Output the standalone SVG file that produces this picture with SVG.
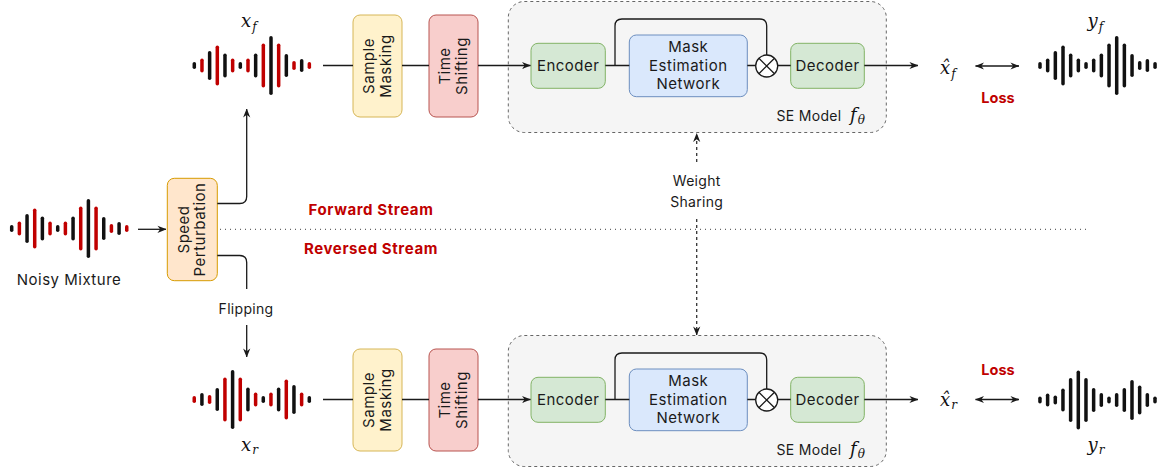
<svg xmlns="http://www.w3.org/2000/svg" xmlns:xlink="http://www.w3.org/1999/xlink" width="1158" height="469" viewBox="0 0 1158 469">
<style>
.lbl{font-family:Inter,"Noto Sans","DejaVu Sans",sans-serif;font-size:15px;fill:#1a1a1a;text-anchor:middle;letter-spacing:0.5px}
.sm{font-size:14px;letter-spacing:0.3px}
.red{font-family:Inter,"Noto Sans","DejaVu Sans",sans-serif;font-weight:700;fill:#c00000;text-anchor:middle}
.math{font-family:"DejaVu Serif","Liberation Serif",serif;font-style:italic;fill:#111}
.edge{stroke:#1a1a1a;stroke-width:1.3;fill:none}
.dash{stroke:#333;stroke-width:1.3;fill:none;stroke-dasharray:3 3}
.dot{stroke:#666;stroke-width:1.2;fill:none;stroke-dasharray:1 4}
.se{fill:#f5f5f5;stroke:#666;stroke-width:1;stroke-dasharray:3 3}
.sample{fill:#fff2cc;stroke:#d6b656;stroke-width:1}
.time{fill:#f8cecc;stroke:#b85450;stroke-width:1}
.green{fill:#d5e8d4;stroke:#82b366;stroke-width:1}
.blue{fill:#dae8fc;stroke:#6c8ebf;stroke-width:1}
.speed{fill:#ffe6cc;stroke:#d79b00;stroke-width:1}
</style>
<defs>
<marker id="ah" viewBox="0 0 10 10" refX="9.5" refY="5" markerWidth="9" markerHeight="9" markerUnits="userSpaceOnUse" orient="auto-start-reverse">
<path d="M0,1 L10,5 L0,9 L3,5 z" fill="#1a1a1a"/>
</marker>
<g id="wA">
<rect x="-1.75" y="-3.5" width="3.5" height="7" rx="1.75"/>
<rect x="13.59" y="-14.5" width="3.5" height="29" rx="1.75"/>
<rect x="28.93" y="-12" width="3.5" height="24" rx="1.75"/>
<rect x="44.27" y="-3.5" width="3.5" height="7" rx="1.75"/>
<rect x="59.61" y="-12" width="3.5" height="24" rx="1.75"/>
<rect x="74.95" y="-29.5" width="3.5" height="59" rx="1.75"/>
<rect x="90.29" y="-11.5" width="3.5" height="23" rx="1.75"/>
<rect x="105.63" y="-6.5" width="3.5" height="13" rx="1.75"/>
</g>
<g id="wB">
<rect x="5.92" y="-7" width="3.5" height="14" rx="1.75"/>
<rect x="21.26" y="-20" width="3.5" height="40" rx="1.75"/>
<rect x="36.6" y="-7" width="3.5" height="14" rx="1.75"/>
<rect x="51.94" y="-7" width="3.5" height="14" rx="1.75"/>
<rect x="67.28" y="-22" width="3.5" height="44" rx="1.75"/>
<rect x="82.62" y="-22" width="3.5" height="44" rx="1.75"/>
<rect x="97.96" y="-4.5" width="3.5" height="9" rx="1.75"/>
<rect x="113.3" y="-3.5" width="3.5" height="7" rx="1.75"/>
</g>
</defs>
<rect width="1158" height="469" fill="#ffffff"/>

<!-- waveforms -->
<g id="noisy-mixture">
<g transform="translate(11.7,228.5)"><use href="#wA" fill="#111"/><use href="#wB" fill="#c00000"/></g>
<text class="lbl" x="69" y="285" letter-spacing="0.3">Noisy Mixture</text>
</g>
<g id="xf">
<g transform="translate(194.3,65.5)"><use href="#wA" fill="#111"/><use href="#wB" fill="#c00000"/></g>
<text class="math" x="241" y="27" font-size="18">x<tspan font-size="12" dx="1" dy="4">f</tspan></text>
</g>
<g id="xr">
<g transform="translate(309.3,399.5) scale(-1,1)"><use href="#wA" fill="#111"/><use href="#wB" fill="#c00000"/></g>
<text class="math" x="241" y="451" font-size="18">x<tspan font-size="12" dx="1" dy="3">r</tspan></text>
</g>
<g id="yf">
<g transform="translate(1040,65.5)"><use href="#wA" fill="#111"/><use href="#wB" fill="#111"/></g>
<text class="math" x="1087.5" y="27" font-size="18">y<tspan font-size="12" dx="1" dy="4">f</tspan></text>
</g>
<g id="yr">
<g transform="translate(1155,400) scale(-1,1)"><use href="#wA" fill="#111"/><use href="#wB" fill="#111"/></g>
<text class="math" x="1087.5" y="451" font-size="18">y<tspan font-size="12" dx="1" dy="3">r</tspan></text>
</g>

<!-- speed perturbation -->
<g id="speed-perturbation">
<rect class="speed" x="167.3" y="178.3" width="50" height="102.4" rx="7"/>
<text class="lbl" transform="translate(192.3,229.5) rotate(-90)" letter-spacing="0.2"><tspan x="0" y="-3.5">Speed</tspan><tspan x="0" y="13">Perturbation</tspan></text>
</g>

<!-- top row -->
<g id="sample-masking-f">
<rect class="sample" x="353" y="15" width="49" height="102" rx="7"/>
<text class="lbl" transform="translate(377.5,66) rotate(-90)"><tspan x="0" y="-3.5">Sample</tspan><tspan x="0" y="13">Masking</tspan></text>
</g>
<g id="time-shifting-f">
<rect class="time" x="429" y="15" width="49" height="102" rx="7"/>
<text class="lbl" transform="translate(453.5,66) rotate(-90)"><tspan x="0" y="-3.5">Time</tspan><tspan x="0" y="13">Shifting</tspan></text>
</g>
<g id="se-model-f">
<rect class="se" x="508.3" y="1.5" width="378" height="131" rx="16"/>
<text class="lbl sm" x="809" y="121">SE Model</text>
<text class="math" x="850" y="121" font-size="18">f<tspan font-size="12" dx="1" dy="3">θ</tspan></text>
</g>
<g id="encoder-f">
<rect class="green" x="531" y="43.3" width="74.3" height="45" rx="7"/>
<text class="lbl" x="568.2" y="71">Encoder</text>
</g>
<g id="men-f">
<rect class="blue" x="629.3" y="35" width="118" height="61.7" rx="7"/>
<text class="lbl"><tspan x="688.3" y="51.5">Mask</tspan><tspan x="688.3" y="70.5">Estimation</tspan><tspan x="688.3" y="89">Network</tspan></text>
</g>
<g id="mult-f">
<circle cx="766.7" cy="66" r="11" fill="#fff" stroke="#1a1a1a" stroke-width="1.3"/>
<path d="M758.9,58.2 L774.5,73.8 M774.5,58.2 L758.9,73.8" stroke="#1a1a1a" stroke-width="1.3"/>
</g>
<g id="decoder-f">
<rect class="green" x="790.7" y="43.3" width="73.6" height="45" rx="7"/>
<text class="lbl" x="827.5" y="71">Decoder</text>
</g>
<g id="xhat-f">
<text class="math" x="940" y="73.5" font-size="18">x̂<tspan font-size="12" dx="1" dy="4">f</tspan></text>
</g>
<text class="red" x="998" y="103" font-size="14.5">Loss</text>

<!-- bottom row -->
<g id="sample-masking-r">
<rect class="sample" x="353" y="349" width="49" height="102" rx="7"/>
<text class="lbl" transform="translate(377.5,400) rotate(-90)"><tspan x="0" y="-3.5">Sample</tspan><tspan x="0" y="13">Masking</tspan></text>
</g>
<g id="time-shifting-r">
<rect class="time" x="429" y="349" width="49" height="102" rx="7"/>
<text class="lbl" transform="translate(453.5,400) rotate(-90)"><tspan x="0" y="-3.5">Time</tspan><tspan x="0" y="13">Shifting</tspan></text>
</g>
<g id="se-model-r">
<rect class="se" x="508.3" y="335.5" width="378" height="131" rx="16"/>
<text class="lbl sm" x="809" y="455">SE Model</text>
<text class="math" x="850" y="455" font-size="18">f<tspan font-size="12" dx="1" dy="3">θ</tspan></text>
</g>
<g id="encoder-r">
<rect class="green" x="531" y="377.3" width="74.3" height="45" rx="7"/>
<text class="lbl" x="568.2" y="405">Encoder</text>
</g>
<g id="men-r">
<rect class="blue" x="629.3" y="369" width="118" height="61.7" rx="7"/>
<text class="lbl"><tspan x="688.3" y="385.5">Mask</tspan><tspan x="688.3" y="404.5">Estimation</tspan><tspan x="688.3" y="423">Network</tspan></text>
</g>
<g id="mult-r">
<circle cx="766.7" cy="400" r="11" fill="#fff" stroke="#1a1a1a" stroke-width="1.3"/>
<path d="M758.9,392.2 L774.5,407.8 M774.5,392.2 L758.9,407.8" stroke="#1a1a1a" stroke-width="1.3"/>
</g>
<g id="decoder-r">
<rect class="green" x="790.7" y="377.3" width="73.6" height="45" rx="7"/>
<text class="lbl" x="827.5" y="405">Decoder</text>
</g>
<g id="xhat-r">
<text class="math" x="940" y="406" font-size="18">x̂<tspan font-size="12" dx="1" dy="3">r</tspan></text>
</g>
<text class="red" x="998" y="375" font-size="14.5">Loss</text>

<!-- stream labels -->
<text class="red" x="371" y="215" font-size="15" letter-spacing="0.6">Forward Stream</text>
<text class="red" x="371" y="254" font-size="15" letter-spacing="0.6">Reversed Stream</text>
<text class="lbl sm" x="246" y="314">Flipping</text>
<text class="lbl sm"><tspan x="696.7" y="186">Weight</tspan><tspan x="696.7" y="207">Sharing</tspan></text>

<!-- connectors -->
<g id="connectors">
<path class="dot" d="M220,229.3 H1090"/>
<path class="edge" d="M138,229.3 H166" marker-end="url(#ah)"/>
<path class="edge" d="M217.3,203.5 H239.7 Q246.7,203.5 246.7,196.5 V109" marker-end="url(#ah)"/>
<path class="edge" d="M217.3,255.5 H239.7 Q246.7,255.5 246.7,262.5 V289"/>
<path class="edge" d="M246.7,325 V357" marker-end="url(#ah)"/>

<path class="edge" d="M323,65.5 H353 M402,65.5 H429"/>
<path class="edge" d="M478,65.5 H530.5" marker-end="url(#ah)"/>
<path class="edge" d="M605.3,65.5 H629.3 M747.3,65.5 H755.7 M777.7,65.5 H790.7"/>
<path class="edge" d="M615,65.5 V26 Q615,19 622,19 H759.7 Q766.7,19 766.7,26 V55"/>
<path class="edge" d="M864.3,65.5 H918" marker-end="url(#ah)"/>
<path class="edge" d="M975.5,66 H1019" marker-start="url(#ah)" marker-end="url(#ah)"/>

<path class="edge" d="M323,399.5 H353 M402,399.5 H429"/>
<path class="edge" d="M478,399.5 H530.5" marker-end="url(#ah)"/>
<path class="edge" d="M605.3,399.5 H629.3 M747.3,399.5 H755.7 M777.7,399.5 H790.7"/>
<path class="edge" d="M615,399.5 V360 Q615,353 622,353 H759.7 Q766.7,353 766.7,360 V389"/>
<path class="edge" d="M864.3,399.5 H918" marker-end="url(#ah)"/>
<path class="edge" d="M975.5,399.5 H1019" marker-start="url(#ah)" marker-end="url(#ah)"/>

<path class="dash" d="M696.7,162 V133.5" marker-end="url(#ah)"/>
<path class="dash" d="M696.7,219 V335" marker-end="url(#ah)"/>
</g>
</svg>
